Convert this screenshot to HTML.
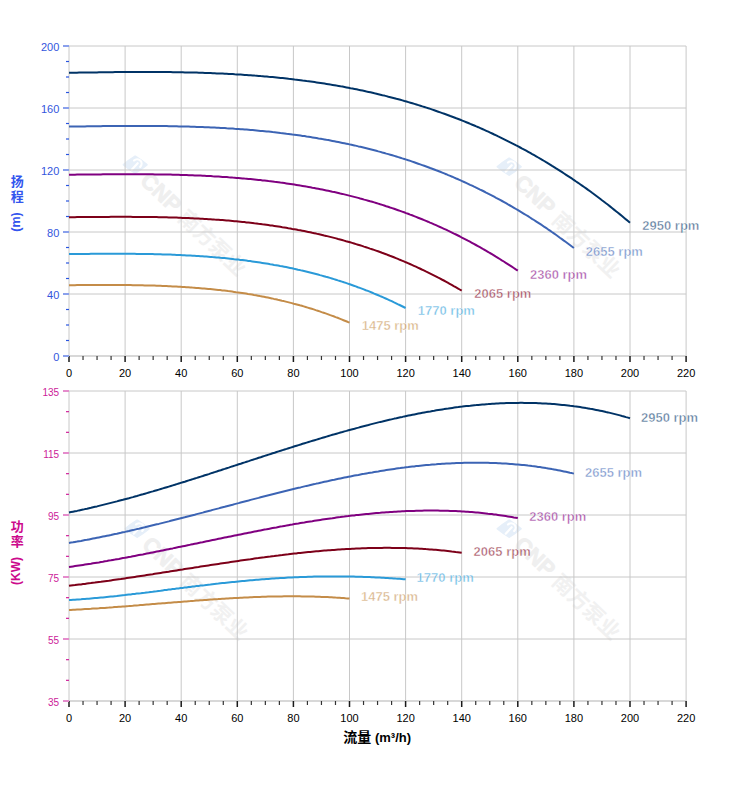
<!DOCTYPE html>
<html><head><meta charset="utf-8"><title>Pump curves</title>
<style>
html,body{margin:0;padding:0;background:#fff;}
body{width:752px;height:797px;overflow:hidden;position:relative;}
svg{position:absolute;left:0;top:0;}
text{font-family:"Liberation Sans","Noto Sans CJK SC",Arial,sans-serif;}
.vt{position:absolute;writing-mode:vertical-rl;font-family:"Liberation Sans","Noto Sans CJK SC",sans-serif;font-weight:bold;font-size:13px;line-height:14px;}
</style></head><body>
<svg width="752" height="797" viewBox="0 0 752 797">
<rect x="0" y="0" width="752" height="797" fill="#fff"/>

<g class="wm" transform="translate(135.2,164.7)"><path d="M-11.6,0 Q-6,-4.5 0,-8.3 Q6,-4.5 11.6,0 Q6,4.5 0,8.3 Q-6,4.5 -11.6,0 Z" fill="#e6eff9" stroke="#e6eff9" stroke-width="2" stroke-linejoin="round"/><path d="M-3.5,5 L2.5,-1.5 M-1.2,-4.2 A4,4 0 0 1 5,2.2" fill="none" stroke="#fff" stroke-width="2.2" stroke-linecap="round"/></g><g class="wm" transform="translate(130.0,164.0) rotate(43.5)"><text x="19" y="7" font-size="22" font-weight="bold" fill="#efefef" stroke="#efefef" stroke-width="0.8" font-family="Liberation Sans, sans-serif">CNP</text><text x="72" y="8" font-size="21" font-weight="bold" fill="#f1f1f1" font-family="Liberation Sans, Noto Sans CJK SC, sans-serif">南方泵业</text></g>
<g class="wm" transform="translate(509.2,166.7)"><path d="M-11.6,0 Q-6,-4.5 0,-8.3 Q6,-4.5 11.6,0 Q6,4.5 0,8.3 Q-6,4.5 -11.6,0 Z" fill="#e6eff9" stroke="#e6eff9" stroke-width="2" stroke-linejoin="round"/><path d="M-3.5,5 L2.5,-1.5 M-1.2,-4.2 A4,4 0 0 1 5,2.2" fill="none" stroke="#fff" stroke-width="2.2" stroke-linecap="round"/></g><g class="wm" transform="translate(504.0,166.0) rotate(43.5)"><text x="19" y="7" font-size="22" font-weight="bold" fill="#efefef" stroke="#efefef" stroke-width="0.8" font-family="Liberation Sans, sans-serif">CNP</text><text x="72" y="8" font-size="21" font-weight="bold" fill="#f1f1f1" font-family="Liberation Sans, Noto Sans CJK SC, sans-serif">南方泵业</text></g>
<g class="wm" transform="translate(137.2,528.7)"><path d="M-11.6,0 Q-6,-4.5 0,-8.3 Q6,-4.5 11.6,0 Q6,4.5 0,8.3 Q-6,4.5 -11.6,0 Z" fill="#e6eff9" stroke="#e6eff9" stroke-width="2" stroke-linejoin="round"/><path d="M-3.5,5 L2.5,-1.5 M-1.2,-4.2 A4,4 0 0 1 5,2.2" fill="none" stroke="#fff" stroke-width="2.2" stroke-linecap="round"/></g><g class="wm" transform="translate(132.0,528.0) rotate(43.5)"><text x="19" y="7" font-size="22" font-weight="bold" fill="#efefef" stroke="#efefef" stroke-width="0.8" font-family="Liberation Sans, sans-serif">CNP</text><text x="72" y="8" font-size="21" font-weight="bold" fill="#f1f1f1" font-family="Liberation Sans, Noto Sans CJK SC, sans-serif">南方泵业</text></g>
<g class="wm" transform="translate(509.2,528.7)"><path d="M-11.6,0 Q-6,-4.5 0,-8.3 Q6,-4.5 11.6,0 Q6,4.5 0,8.3 Q-6,4.5 -11.6,0 Z" fill="#e6eff9" stroke="#e6eff9" stroke-width="2" stroke-linejoin="round"/><path d="M-3.5,5 L2.5,-1.5 M-1.2,-4.2 A4,4 0 0 1 5,2.2" fill="none" stroke="#fff" stroke-width="2.2" stroke-linecap="round"/></g><g class="wm" transform="translate(504.0,528.0) rotate(43.5)"><text x="19" y="7" font-size="22" font-weight="bold" fill="#efefef" stroke="#efefef" stroke-width="0.8" font-family="Liberation Sans, sans-serif">CNP</text><text x="72" y="8" font-size="21" font-weight="bold" fill="#f1f1f1" font-family="Liberation Sans, Noto Sans CJK SC, sans-serif">南方泵业</text></g>
<line x1="69.00" y1="46.0" x2="69.00" y2="356.0" stroke="#c8c8c8"/>
<line x1="125.10" y1="46.0" x2="125.10" y2="356.0" stroke="#c8c8c8"/>
<line x1="181.20" y1="46.0" x2="181.20" y2="356.0" stroke="#c8c8c8"/>
<line x1="237.30" y1="46.0" x2="237.30" y2="356.0" stroke="#c8c8c8"/>
<line x1="293.40" y1="46.0" x2="293.40" y2="356.0" stroke="#c8c8c8"/>
<line x1="349.50" y1="46.0" x2="349.50" y2="356.0" stroke="#c8c8c8"/>
<line x1="405.60" y1="46.0" x2="405.60" y2="356.0" stroke="#c8c8c8"/>
<line x1="461.70" y1="46.0" x2="461.70" y2="356.0" stroke="#c8c8c8"/>
<line x1="517.80" y1="46.0" x2="517.80" y2="356.0" stroke="#c8c8c8"/>
<line x1="573.90" y1="46.0" x2="573.90" y2="356.0" stroke="#c8c8c8"/>
<line x1="630.00" y1="46.0" x2="630.00" y2="356.0" stroke="#c8c8c8"/>
<line x1="686.10" y1="46.0" x2="686.10" y2="356.0" stroke="#c8c8c8"/>
<line x1="69.0" y1="356.00" x2="686.1" y2="356.00" stroke="#c8c8c8"/>
<line x1="69.0" y1="294.00" x2="686.1" y2="294.00" stroke="#c8c8c8"/>
<line x1="69.0" y1="232.00" x2="686.1" y2="232.00" stroke="#c8c8c8"/>
<line x1="69.0" y1="170.00" x2="686.1" y2="170.00" stroke="#c8c8c8"/>
<line x1="69.0" y1="108.00" x2="686.1" y2="108.00" stroke="#c8c8c8"/>
<line x1="69.0" y1="46.00" x2="686.1" y2="46.00" stroke="#c8c8c8"/>
<line x1="69.00" y1="391.0" x2="69.00" y2="701.0" stroke="#c8c8c8"/>
<line x1="125.10" y1="391.0" x2="125.10" y2="701.0" stroke="#c8c8c8"/>
<line x1="181.20" y1="391.0" x2="181.20" y2="701.0" stroke="#c8c8c8"/>
<line x1="237.30" y1="391.0" x2="237.30" y2="701.0" stroke="#c8c8c8"/>
<line x1="293.40" y1="391.0" x2="293.40" y2="701.0" stroke="#c8c8c8"/>
<line x1="349.50" y1="391.0" x2="349.50" y2="701.0" stroke="#c8c8c8"/>
<line x1="405.60" y1="391.0" x2="405.60" y2="701.0" stroke="#c8c8c8"/>
<line x1="461.70" y1="391.0" x2="461.70" y2="701.0" stroke="#c8c8c8"/>
<line x1="517.80" y1="391.0" x2="517.80" y2="701.0" stroke="#c8c8c8"/>
<line x1="573.90" y1="391.0" x2="573.90" y2="701.0" stroke="#c8c8c8"/>
<line x1="630.00" y1="391.0" x2="630.00" y2="701.0" stroke="#c8c8c8"/>
<line x1="686.10" y1="391.0" x2="686.10" y2="701.0" stroke="#c8c8c8"/>
<line x1="69.0" y1="701.00" x2="686.1" y2="701.00" stroke="#c8c8c8"/>
<line x1="69.0" y1="639.00" x2="686.1" y2="639.00" stroke="#c8c8c8"/>
<line x1="69.0" y1="577.00" x2="686.1" y2="577.00" stroke="#c8c8c8"/>
<line x1="69.0" y1="515.00" x2="686.1" y2="515.00" stroke="#c8c8c8"/>
<line x1="69.0" y1="453.00" x2="686.1" y2="453.00" stroke="#c8c8c8"/>
<line x1="69.0" y1="391.00" x2="686.1" y2="391.00" stroke="#c8c8c8"/>
<line x1="69.0" y1="356.0" x2="686.1" y2="356.0" stroke="#d8d8d8" stroke-width="2"/>
<line x1="69.00" y1="356.0" x2="69.00" y2="362.0" stroke="#1a1a1a" stroke-width="1.5"/>
<text x="69.00" y="377.2" font-size="11" fill="#000" text-anchor="middle">0</text>
<line x1="83.03" y1="356.0" x2="83.03" y2="360.0" stroke="#333" stroke-width="1.2"/>
<line x1="97.05" y1="356.0" x2="97.05" y2="360.0" stroke="#333" stroke-width="1.2"/>
<line x1="111.08" y1="356.0" x2="111.08" y2="360.0" stroke="#333" stroke-width="1.2"/>
<line x1="125.10" y1="356.0" x2="125.10" y2="362.0" stroke="#1a1a1a" stroke-width="1.5"/>
<text x="125.10" y="377.2" font-size="11" fill="#000" text-anchor="middle">20</text>
<line x1="139.12" y1="356.0" x2="139.12" y2="360.0" stroke="#333" stroke-width="1.2"/>
<line x1="153.15" y1="356.0" x2="153.15" y2="360.0" stroke="#333" stroke-width="1.2"/>
<line x1="167.18" y1="356.0" x2="167.18" y2="360.0" stroke="#333" stroke-width="1.2"/>
<line x1="181.20" y1="356.0" x2="181.20" y2="362.0" stroke="#1a1a1a" stroke-width="1.5"/>
<text x="181.20" y="377.2" font-size="11" fill="#000" text-anchor="middle">40</text>
<line x1="195.23" y1="356.0" x2="195.23" y2="360.0" stroke="#333" stroke-width="1.2"/>
<line x1="209.25" y1="356.0" x2="209.25" y2="360.0" stroke="#333" stroke-width="1.2"/>
<line x1="223.28" y1="356.0" x2="223.28" y2="360.0" stroke="#333" stroke-width="1.2"/>
<line x1="237.30" y1="356.0" x2="237.30" y2="362.0" stroke="#1a1a1a" stroke-width="1.5"/>
<text x="237.30" y="377.2" font-size="11" fill="#000" text-anchor="middle">60</text>
<line x1="251.33" y1="356.0" x2="251.33" y2="360.0" stroke="#333" stroke-width="1.2"/>
<line x1="265.35" y1="356.0" x2="265.35" y2="360.0" stroke="#333" stroke-width="1.2"/>
<line x1="279.38" y1="356.0" x2="279.38" y2="360.0" stroke="#333" stroke-width="1.2"/>
<line x1="293.40" y1="356.0" x2="293.40" y2="362.0" stroke="#1a1a1a" stroke-width="1.5"/>
<text x="293.40" y="377.2" font-size="11" fill="#000" text-anchor="middle">80</text>
<line x1="307.43" y1="356.0" x2="307.43" y2="360.0" stroke="#333" stroke-width="1.2"/>
<line x1="321.45" y1="356.0" x2="321.45" y2="360.0" stroke="#333" stroke-width="1.2"/>
<line x1="335.48" y1="356.0" x2="335.48" y2="360.0" stroke="#333" stroke-width="1.2"/>
<line x1="349.50" y1="356.0" x2="349.50" y2="362.0" stroke="#1a1a1a" stroke-width="1.5"/>
<text x="349.50" y="377.2" font-size="11" fill="#000" text-anchor="middle">100</text>
<line x1="363.53" y1="356.0" x2="363.53" y2="360.0" stroke="#333" stroke-width="1.2"/>
<line x1="377.55" y1="356.0" x2="377.55" y2="360.0" stroke="#333" stroke-width="1.2"/>
<line x1="391.58" y1="356.0" x2="391.58" y2="360.0" stroke="#333" stroke-width="1.2"/>
<line x1="405.60" y1="356.0" x2="405.60" y2="362.0" stroke="#1a1a1a" stroke-width="1.5"/>
<text x="405.60" y="377.2" font-size="11" fill="#000" text-anchor="middle">120</text>
<line x1="419.62" y1="356.0" x2="419.62" y2="360.0" stroke="#333" stroke-width="1.2"/>
<line x1="433.65" y1="356.0" x2="433.65" y2="360.0" stroke="#333" stroke-width="1.2"/>
<line x1="447.68" y1="356.0" x2="447.68" y2="360.0" stroke="#333" stroke-width="1.2"/>
<line x1="461.70" y1="356.0" x2="461.70" y2="362.0" stroke="#1a1a1a" stroke-width="1.5"/>
<text x="461.70" y="377.2" font-size="11" fill="#000" text-anchor="middle">140</text>
<line x1="475.73" y1="356.0" x2="475.73" y2="360.0" stroke="#333" stroke-width="1.2"/>
<line x1="489.75" y1="356.0" x2="489.75" y2="360.0" stroke="#333" stroke-width="1.2"/>
<line x1="503.78" y1="356.0" x2="503.78" y2="360.0" stroke="#333" stroke-width="1.2"/>
<line x1="517.80" y1="356.0" x2="517.80" y2="362.0" stroke="#1a1a1a" stroke-width="1.5"/>
<text x="517.80" y="377.2" font-size="11" fill="#000" text-anchor="middle">160</text>
<line x1="531.83" y1="356.0" x2="531.83" y2="360.0" stroke="#333" stroke-width="1.2"/>
<line x1="545.85" y1="356.0" x2="545.85" y2="360.0" stroke="#333" stroke-width="1.2"/>
<line x1="559.88" y1="356.0" x2="559.88" y2="360.0" stroke="#333" stroke-width="1.2"/>
<line x1="573.90" y1="356.0" x2="573.90" y2="362.0" stroke="#1a1a1a" stroke-width="1.5"/>
<text x="573.90" y="377.2" font-size="11" fill="#000" text-anchor="middle">180</text>
<line x1="587.93" y1="356.0" x2="587.93" y2="360.0" stroke="#333" stroke-width="1.2"/>
<line x1="601.95" y1="356.0" x2="601.95" y2="360.0" stroke="#333" stroke-width="1.2"/>
<line x1="615.98" y1="356.0" x2="615.98" y2="360.0" stroke="#333" stroke-width="1.2"/>
<line x1="630.00" y1="356.0" x2="630.00" y2="362.0" stroke="#1a1a1a" stroke-width="1.5"/>
<text x="630.00" y="377.2" font-size="11" fill="#000" text-anchor="middle">200</text>
<line x1="644.02" y1="356.0" x2="644.02" y2="360.0" stroke="#333" stroke-width="1.2"/>
<line x1="658.05" y1="356.0" x2="658.05" y2="360.0" stroke="#333" stroke-width="1.2"/>
<line x1="672.08" y1="356.0" x2="672.08" y2="360.0" stroke="#333" stroke-width="1.2"/>
<line x1="686.10" y1="356.0" x2="686.10" y2="362.0" stroke="#1a1a1a" stroke-width="1.5"/>
<text x="686.10" y="377.2" font-size="11" fill="#000" text-anchor="middle">220</text>
<line x1="69.0" y1="701.0" x2="686.1" y2="701.0" stroke="#d8d8d8" stroke-width="2"/>
<line x1="69.00" y1="701.0" x2="69.00" y2="707.0" stroke="#1a1a1a" stroke-width="1.5"/>
<text x="69.00" y="722.2" font-size="11" fill="#000" text-anchor="middle">0</text>
<line x1="83.03" y1="701.0" x2="83.03" y2="705.0" stroke="#333" stroke-width="1.2"/>
<line x1="97.05" y1="701.0" x2="97.05" y2="705.0" stroke="#333" stroke-width="1.2"/>
<line x1="111.08" y1="701.0" x2="111.08" y2="705.0" stroke="#333" stroke-width="1.2"/>
<line x1="125.10" y1="701.0" x2="125.10" y2="707.0" stroke="#1a1a1a" stroke-width="1.5"/>
<text x="125.10" y="722.2" font-size="11" fill="#000" text-anchor="middle">20</text>
<line x1="139.12" y1="701.0" x2="139.12" y2="705.0" stroke="#333" stroke-width="1.2"/>
<line x1="153.15" y1="701.0" x2="153.15" y2="705.0" stroke="#333" stroke-width="1.2"/>
<line x1="167.18" y1="701.0" x2="167.18" y2="705.0" stroke="#333" stroke-width="1.2"/>
<line x1="181.20" y1="701.0" x2="181.20" y2="707.0" stroke="#1a1a1a" stroke-width="1.5"/>
<text x="181.20" y="722.2" font-size="11" fill="#000" text-anchor="middle">40</text>
<line x1="195.23" y1="701.0" x2="195.23" y2="705.0" stroke="#333" stroke-width="1.2"/>
<line x1="209.25" y1="701.0" x2="209.25" y2="705.0" stroke="#333" stroke-width="1.2"/>
<line x1="223.28" y1="701.0" x2="223.28" y2="705.0" stroke="#333" stroke-width="1.2"/>
<line x1="237.30" y1="701.0" x2="237.30" y2="707.0" stroke="#1a1a1a" stroke-width="1.5"/>
<text x="237.30" y="722.2" font-size="11" fill="#000" text-anchor="middle">60</text>
<line x1="251.33" y1="701.0" x2="251.33" y2="705.0" stroke="#333" stroke-width="1.2"/>
<line x1="265.35" y1="701.0" x2="265.35" y2="705.0" stroke="#333" stroke-width="1.2"/>
<line x1="279.38" y1="701.0" x2="279.38" y2="705.0" stroke="#333" stroke-width="1.2"/>
<line x1="293.40" y1="701.0" x2="293.40" y2="707.0" stroke="#1a1a1a" stroke-width="1.5"/>
<text x="293.40" y="722.2" font-size="11" fill="#000" text-anchor="middle">80</text>
<line x1="307.43" y1="701.0" x2="307.43" y2="705.0" stroke="#333" stroke-width="1.2"/>
<line x1="321.45" y1="701.0" x2="321.45" y2="705.0" stroke="#333" stroke-width="1.2"/>
<line x1="335.48" y1="701.0" x2="335.48" y2="705.0" stroke="#333" stroke-width="1.2"/>
<line x1="349.50" y1="701.0" x2="349.50" y2="707.0" stroke="#1a1a1a" stroke-width="1.5"/>
<text x="349.50" y="722.2" font-size="11" fill="#000" text-anchor="middle">100</text>
<line x1="363.53" y1="701.0" x2="363.53" y2="705.0" stroke="#333" stroke-width="1.2"/>
<line x1="377.55" y1="701.0" x2="377.55" y2="705.0" stroke="#333" stroke-width="1.2"/>
<line x1="391.58" y1="701.0" x2="391.58" y2="705.0" stroke="#333" stroke-width="1.2"/>
<line x1="405.60" y1="701.0" x2="405.60" y2="707.0" stroke="#1a1a1a" stroke-width="1.5"/>
<text x="405.60" y="722.2" font-size="11" fill="#000" text-anchor="middle">120</text>
<line x1="419.62" y1="701.0" x2="419.62" y2="705.0" stroke="#333" stroke-width="1.2"/>
<line x1="433.65" y1="701.0" x2="433.65" y2="705.0" stroke="#333" stroke-width="1.2"/>
<line x1="447.68" y1="701.0" x2="447.68" y2="705.0" stroke="#333" stroke-width="1.2"/>
<line x1="461.70" y1="701.0" x2="461.70" y2="707.0" stroke="#1a1a1a" stroke-width="1.5"/>
<text x="461.70" y="722.2" font-size="11" fill="#000" text-anchor="middle">140</text>
<line x1="475.73" y1="701.0" x2="475.73" y2="705.0" stroke="#333" stroke-width="1.2"/>
<line x1="489.75" y1="701.0" x2="489.75" y2="705.0" stroke="#333" stroke-width="1.2"/>
<line x1="503.78" y1="701.0" x2="503.78" y2="705.0" stroke="#333" stroke-width="1.2"/>
<line x1="517.80" y1="701.0" x2="517.80" y2="707.0" stroke="#1a1a1a" stroke-width="1.5"/>
<text x="517.80" y="722.2" font-size="11" fill="#000" text-anchor="middle">160</text>
<line x1="531.83" y1="701.0" x2="531.83" y2="705.0" stroke="#333" stroke-width="1.2"/>
<line x1="545.85" y1="701.0" x2="545.85" y2="705.0" stroke="#333" stroke-width="1.2"/>
<line x1="559.88" y1="701.0" x2="559.88" y2="705.0" stroke="#333" stroke-width="1.2"/>
<line x1="573.90" y1="701.0" x2="573.90" y2="707.0" stroke="#1a1a1a" stroke-width="1.5"/>
<text x="573.90" y="722.2" font-size="11" fill="#000" text-anchor="middle">180</text>
<line x1="587.93" y1="701.0" x2="587.93" y2="705.0" stroke="#333" stroke-width="1.2"/>
<line x1="601.95" y1="701.0" x2="601.95" y2="705.0" stroke="#333" stroke-width="1.2"/>
<line x1="615.98" y1="701.0" x2="615.98" y2="705.0" stroke="#333" stroke-width="1.2"/>
<line x1="630.00" y1="701.0" x2="630.00" y2="707.0" stroke="#1a1a1a" stroke-width="1.5"/>
<text x="630.00" y="722.2" font-size="11" fill="#000" text-anchor="middle">200</text>
<line x1="644.02" y1="701.0" x2="644.02" y2="705.0" stroke="#333" stroke-width="1.2"/>
<line x1="658.05" y1="701.0" x2="658.05" y2="705.0" stroke="#333" stroke-width="1.2"/>
<line x1="672.08" y1="701.0" x2="672.08" y2="705.0" stroke="#333" stroke-width="1.2"/>
<line x1="686.10" y1="701.0" x2="686.10" y2="707.0" stroke="#1a1a1a" stroke-width="1.5"/>
<text x="686.10" y="722.2" font-size="11" fill="#000" text-anchor="middle">220</text>
<line x1="63" y1="356.00" x2="69" y2="356.00" stroke="#8aa0ec" stroke-width="2"/>
<text x="59.3" y="360.8" font-size="11" fill="#3355dd" text-anchor="end">0</text>
<line x1="66" y1="340.50" x2="69" y2="340.50" stroke="#2a55e0" stroke-width="1.2"/>
<line x1="66" y1="325.00" x2="69" y2="325.00" stroke="#2a55e0" stroke-width="1.2"/>
<line x1="66" y1="309.50" x2="69" y2="309.50" stroke="#2a55e0" stroke-width="1.2"/>
<line x1="63" y1="294.00" x2="69" y2="294.00" stroke="#8aa0ec" stroke-width="2"/>
<text x="59.3" y="298.8" font-size="11" fill="#3355dd" text-anchor="end">40</text>
<line x1="66" y1="278.50" x2="69" y2="278.50" stroke="#2a55e0" stroke-width="1.2"/>
<line x1="66" y1="263.00" x2="69" y2="263.00" stroke="#2a55e0" stroke-width="1.2"/>
<line x1="66" y1="247.50" x2="69" y2="247.50" stroke="#2a55e0" stroke-width="1.2"/>
<line x1="63" y1="232.00" x2="69" y2="232.00" stroke="#8aa0ec" stroke-width="2"/>
<text x="59.3" y="236.8" font-size="11" fill="#3355dd" text-anchor="end">80</text>
<line x1="66" y1="216.50" x2="69" y2="216.50" stroke="#2a55e0" stroke-width="1.2"/>
<line x1="66" y1="201.00" x2="69" y2="201.00" stroke="#2a55e0" stroke-width="1.2"/>
<line x1="66" y1="185.50" x2="69" y2="185.50" stroke="#2a55e0" stroke-width="1.2"/>
<line x1="63" y1="170.00" x2="69" y2="170.00" stroke="#8aa0ec" stroke-width="2"/>
<text x="59.3" y="174.8" font-size="11" fill="#3355dd" text-anchor="end">120</text>
<line x1="66" y1="154.50" x2="69" y2="154.50" stroke="#2a55e0" stroke-width="1.2"/>
<line x1="66" y1="139.00" x2="69" y2="139.00" stroke="#2a55e0" stroke-width="1.2"/>
<line x1="66" y1="123.50" x2="69" y2="123.50" stroke="#2a55e0" stroke-width="1.2"/>
<line x1="63" y1="108.00" x2="69" y2="108.00" stroke="#8aa0ec" stroke-width="2"/>
<text x="59.3" y="112.8" font-size="11" fill="#3355dd" text-anchor="end">160</text>
<line x1="66" y1="92.50" x2="69" y2="92.50" stroke="#2a55e0" stroke-width="1.2"/>
<line x1="66" y1="77.00" x2="69" y2="77.00" stroke="#2a55e0" stroke-width="1.2"/>
<line x1="66" y1="61.50" x2="69" y2="61.50" stroke="#2a55e0" stroke-width="1.2"/>
<line x1="63" y1="46.00" x2="69" y2="46.00" stroke="#8aa0ec" stroke-width="2"/>
<text x="59.3" y="50.8" font-size="11" fill="#3355dd" text-anchor="end">200</text>
<line x1="63" y1="701.00" x2="69" y2="701.00" stroke="#e58ccc" stroke-width="2"/>
<text x="59.2" y="705.8" font-size="10" fill="#cc1a99" text-anchor="end">35</text>
<line x1="66" y1="680.33" x2="69" y2="680.33" stroke="#d0209a" stroke-width="1.2"/>
<line x1="66" y1="659.67" x2="69" y2="659.67" stroke="#d0209a" stroke-width="1.2"/>
<line x1="63" y1="639.00" x2="69" y2="639.00" stroke="#e58ccc" stroke-width="2"/>
<text x="59.2" y="643.8" font-size="10" fill="#cc1a99" text-anchor="end">55</text>
<line x1="66" y1="618.33" x2="69" y2="618.33" stroke="#d0209a" stroke-width="1.2"/>
<line x1="66" y1="597.67" x2="69" y2="597.67" stroke="#d0209a" stroke-width="1.2"/>
<line x1="63" y1="577.00" x2="69" y2="577.00" stroke="#e58ccc" stroke-width="2"/>
<text x="59.2" y="581.8" font-size="10" fill="#cc1a99" text-anchor="end">75</text>
<line x1="66" y1="556.33" x2="69" y2="556.33" stroke="#d0209a" stroke-width="1.2"/>
<line x1="66" y1="535.67" x2="69" y2="535.67" stroke="#d0209a" stroke-width="1.2"/>
<line x1="63" y1="515.00" x2="69" y2="515.00" stroke="#e58ccc" stroke-width="2"/>
<text x="59.2" y="519.8" font-size="10" fill="#cc1a99" text-anchor="end">95</text>
<line x1="66" y1="494.33" x2="69" y2="494.33" stroke="#d0209a" stroke-width="1.2"/>
<line x1="66" y1="473.67" x2="69" y2="473.67" stroke="#d0209a" stroke-width="1.2"/>
<line x1="63" y1="453.00" x2="69" y2="453.00" stroke="#e58ccc" stroke-width="2"/>
<text x="59.2" y="457.8" font-size="10" fill="#cc1a99" text-anchor="end">115</text>
<line x1="66" y1="432.33" x2="69" y2="432.33" stroke="#d0209a" stroke-width="1.2"/>
<line x1="66" y1="411.67" x2="69" y2="411.67" stroke="#d0209a" stroke-width="1.2"/>
<line x1="63" y1="391.00" x2="69" y2="391.00" stroke="#e58ccc" stroke-width="2"/>
<text x="59.2" y="395.8" font-size="10" fill="#cc1a99" text-anchor="end">135</text>
<path d="M69.0,72.8 L71.0,72.8 L73.0,72.7 L75.0,72.7 L77.0,72.7 L79.0,72.6 L81.0,72.6 L83.0,72.6 L85.0,72.5 L87.0,72.5 L89.0,72.5 L91.0,72.4 L93.0,72.4 L95.0,72.4 L97.0,72.4 L98.9,72.3 L100.9,72.3 L102.9,72.3 L104.9,72.2 L106.9,72.2 L108.9,72.2 L110.9,72.2 L112.9,72.2 L114.9,72.1 L116.9,72.1 L118.9,72.1 L120.9,72.1 L122.9,72.1 L124.9,72.0 L126.9,72.0 L128.9,72.0 L130.9,72.0 L132.9,72.0 L134.9,72.0 L136.9,72.0 L138.9,72.0 L140.9,72.0 L142.9,72.0 L144.9,72.0 L146.9,72.0 L148.9,72.0 L150.9,72.0 L152.9,72.0 L154.8,72.0 L156.8,72.0 L158.8,72.0 L160.8,72.0 L162.8,72.0 L164.8,72.1 L166.8,72.1 L168.8,72.1 L170.8,72.1 L172.8,72.2 L174.8,72.2 L176.8,72.2 L178.8,72.2 L180.8,72.3 L182.8,72.3 L184.8,72.4 L186.8,72.4 L188.8,72.4 L190.8,72.5 L192.8,72.5 L194.8,72.6 L196.8,72.6 L198.8,72.7 L200.8,72.8 L202.8,72.8 L204.8,72.9 L206.8,73.0 L208.8,73.0 L210.7,73.1 L212.7,73.2 L214.7,73.3 L216.7,73.4 L218.7,73.4 L220.7,73.5 L222.7,73.6 L224.7,73.7 L226.7,73.8 L228.7,73.9 L230.7,74.0 L232.7,74.1 L234.7,74.3 L236.7,74.4 L238.7,74.5 L240.7,74.6 L242.7,74.7 L244.7,74.9 L246.7,75.0 L248.7,75.2 L250.7,75.3 L252.7,75.4 L254.7,75.6 L256.7,75.7 L258.7,75.9 L260.7,76.1 L262.7,76.2 L264.7,76.4 L266.6,76.6 L268.6,76.8 L270.6,76.9 L272.6,77.1 L274.6,77.3 L276.6,77.5 L278.6,77.7 L280.6,77.9 L282.6,78.1 L284.6,78.3 L286.6,78.5 L288.6,78.8 L290.6,79.0 L292.6,79.2 L294.6,79.5 L296.6,79.7 L298.6,79.9 L300.6,80.2 L302.6,80.5 L304.6,80.7 L306.6,81.0 L308.6,81.2 L310.6,81.5 L312.6,81.8 L314.6,82.1 L316.6,82.4 L318.6,82.7 L320.6,83.0 L322.5,83.3 L324.5,83.6 L326.5,83.9 L328.5,84.2 L330.5,84.6 L332.5,84.9 L334.5,85.2 L336.5,85.6 L338.5,85.9 L340.5,86.3 L342.5,86.6 L344.5,87.0 L346.5,87.4 L348.5,87.8 L350.5,88.2 L352.5,88.5 L354.5,88.9 L356.5,89.3 L358.5,89.8 L360.5,90.2 L362.5,90.6 L364.5,91.0 L366.5,91.5 L368.5,91.9 L370.5,92.3 L372.5,92.8 L374.5,93.3 L376.5,93.7 L378.4,94.2 L380.4,94.7 L382.4,95.2 L384.4,95.6 L386.4,96.1 L388.4,96.7 L390.4,97.2 L392.4,97.7 L394.4,98.2 L396.4,98.8 L398.4,99.3 L400.4,99.8 L402.4,100.4 L404.4,101.0 L406.4,101.5 L408.4,102.1 L410.4,102.7 L412.4,103.3 L414.4,103.9 L416.4,104.5 L418.4,105.1 L420.4,105.7 L422.4,106.4 L424.4,107.0 L426.4,107.6 L428.4,108.3 L430.4,108.9 L432.4,109.6 L434.3,110.3 L436.3,111.0 L438.3,111.7 L440.3,112.4 L442.3,113.1 L444.3,113.8 L446.3,114.5 L448.3,115.2 L450.3,116.0 L452.3,116.7 L454.3,117.5 L456.3,118.3 L458.3,119.0 L460.3,119.8 L462.3,120.6 L464.3,121.4 L466.3,122.2 L468.3,123.0 L470.3,123.9 L472.3,124.7 L474.3,125.5 L476.3,126.4 L478.3,127.2 L480.3,128.1 L482.3,129.0 L484.3,129.9 L486.3,130.8 L488.3,131.7 L490.2,132.6 L492.2,133.5 L494.2,134.5 L496.2,135.4 L498.2,136.4 L500.2,137.3 L502.2,138.3 L504.2,139.3 L506.2,140.3 L508.2,141.3 L510.2,142.3 L512.2,143.3 L514.2,144.3 L516.2,145.4 L518.2,146.4 L520.2,147.5 L522.2,148.6 L524.2,149.6 L526.2,150.7 L528.2,151.8 L530.2,152.9 L532.2,154.1 L534.2,155.2 L536.2,156.3 L538.2,157.5 L540.2,158.7 L542.2,159.8 L544.2,161.0 L546.1,162.2 L548.1,163.4 L550.1,164.6 L552.1,165.9 L554.1,167.1 L556.1,168.4 L558.1,169.6 L560.1,170.9 L562.1,172.2 L564.1,173.5 L566.1,174.8 L568.1,176.1 L570.1,177.4 L572.1,178.7 L574.1,180.1 L576.1,181.5 L578.1,182.8 L580.1,184.2 L582.1,185.6 L584.1,187.0 L586.1,188.4 L588.1,189.9 L590.1,191.3 L592.1,192.8 L594.1,194.2 L596.1,195.7 L598.1,197.2 L600.1,198.7 L602.0,200.2 L604.0,201.7 L606.0,203.3 L608.0,204.8 L610.0,206.4 L612.0,208.0 L614.0,209.6 L616.0,211.2 L618.0,212.8 L620.0,214.4 L622.0,216.0 L624.0,217.7 L626.0,219.4 L628.0,221.0 L630.0,222.7" fill="none" stroke="#003366" stroke-width="2" stroke-linejoin="round" stroke-linecap="butt"/>
<path d="M69.0,126.6 L71.0,126.6 L73.0,126.6 L75.0,126.5 L77.0,126.5 L79.0,126.5 L81.0,126.4 L83.0,126.4 L85.0,126.4 L87.0,126.3 L89.0,126.3 L91.0,126.3 L92.9,126.3 L94.9,126.2 L96.9,126.2 L98.9,126.2 L100.9,126.2 L102.9,126.1 L104.9,126.1 L106.9,126.1 L108.9,126.1 L110.9,126.1 L112.9,126.0 L114.9,126.0 L116.9,126.0 L118.9,126.0 L120.9,126.0 L122.9,126.0 L124.9,126.0 L126.9,126.0 L128.9,125.9 L130.9,125.9 L132.9,125.9 L134.9,125.9 L136.9,125.9 L138.8,125.9 L140.8,125.9 L142.8,125.9 L144.8,125.9 L146.8,126.0 L148.8,126.0 L150.8,126.0 L152.8,126.0 L154.8,126.0 L156.8,126.0 L158.8,126.0 L160.8,126.1 L162.8,126.1 L164.8,126.1 L166.8,126.1 L168.8,126.2 L170.8,126.2 L172.8,126.2 L174.8,126.3 L176.8,126.3 L178.8,126.4 L180.8,126.4 L182.8,126.5 L184.7,126.5 L186.7,126.6 L188.7,126.6 L190.7,126.7 L192.7,126.7 L194.7,126.8 L196.7,126.9 L198.7,126.9 L200.7,127.0 L202.7,127.1 L204.7,127.2 L206.7,127.3 L208.7,127.3 L210.7,127.4 L212.7,127.5 L214.7,127.6 L216.7,127.7 L218.7,127.8 L220.7,127.9 L222.7,128.0 L224.7,128.1 L226.7,128.3 L228.7,128.4 L230.6,128.5 L232.6,128.6 L234.6,128.8 L236.6,128.9 L238.6,129.0 L240.6,129.2 L242.6,129.3 L244.6,129.5 L246.6,129.6 L248.6,129.8 L250.6,130.0 L252.6,130.1 L254.6,130.3 L256.6,130.5 L258.6,130.7 L260.6,130.9 L262.6,131.0 L264.6,131.2 L266.6,131.4 L268.6,131.6 L270.6,131.8 L272.6,132.1 L274.6,132.3 L276.5,132.5 L278.5,132.7 L280.5,133.0 L282.5,133.2 L284.5,133.4 L286.5,133.7 L288.5,133.9 L290.5,134.2 L292.5,134.5 L294.5,134.7 L296.5,135.0 L298.5,135.3 L300.5,135.6 L302.5,135.9 L304.5,136.1 L306.5,136.5 L308.5,136.8 L310.5,137.1 L312.5,137.4 L314.5,137.7 L316.5,138.0 L318.5,138.4 L320.5,138.7 L322.4,139.1 L324.4,139.4 L326.4,139.8 L328.4,140.1 L330.4,140.5 L332.4,140.9 L334.4,141.3 L336.4,141.7 L338.4,142.1 L340.4,142.5 L342.4,142.9 L344.4,143.3 L346.4,143.7 L348.4,144.1 L350.4,144.6 L352.4,145.0 L354.4,145.4 L356.4,145.9 L358.4,146.4 L360.4,146.8 L362.4,147.3 L364.4,147.8 L366.4,148.3 L368.3,148.8 L370.3,149.3 L372.3,149.8 L374.3,150.3 L376.3,150.8 L378.3,151.4 L380.3,151.9 L382.3,152.5 L384.3,153.0 L386.3,153.6 L388.3,154.1 L390.3,154.7 L392.3,155.3 L394.3,155.9 L396.3,156.5 L398.3,157.1 L400.3,157.7 L402.3,158.4 L404.3,159.0 L406.3,159.6 L408.3,160.3 L410.3,160.9 L412.3,161.6 L414.2,162.3 L416.2,163.0 L418.2,163.7 L420.2,164.4 L422.2,165.1 L424.2,165.8 L426.2,166.5 L428.2,167.2 L430.2,168.0 L432.2,168.7 L434.2,169.5 L436.2,170.3 L438.2,171.0 L440.2,171.8 L442.2,172.6 L444.2,173.4 L446.2,174.2 L448.2,175.1 L450.2,175.9 L452.2,176.7 L454.2,177.6 L456.2,178.5 L458.2,179.3 L460.1,180.2 L462.1,181.1 L464.1,182.0 L466.1,182.9 L468.1,183.8 L470.1,184.8 L472.1,185.7 L474.1,186.7 L476.1,187.6 L478.1,188.6 L480.1,189.6 L482.1,190.5 L484.1,191.5 L486.1,192.6 L488.1,193.6 L490.1,194.6 L492.1,195.6 L494.1,196.7 L496.1,197.8 L498.1,198.8 L500.1,199.9 L502.1,201.0 L504.1,202.1 L506.0,203.2 L508.0,204.4 L510.0,205.5 L512.0,206.6 L514.0,207.8 L516.0,209.0 L518.0,210.2 L520.0,211.4 L522.0,212.6 L524.0,213.8 L526.0,215.0 L528.0,216.2 L530.0,217.5 L532.0,218.8 L534.0,220.0 L536.0,221.3 L538.0,222.6 L540.0,223.9 L542.0,225.2 L544.0,226.6 L546.0,227.9 L548.0,229.3 L550.0,230.6 L551.9,232.0 L553.9,233.4 L555.9,234.8 L557.9,236.2 L559.9,237.7 L561.9,239.1 L563.9,240.6 L565.9,242.0 L567.9,243.5 L569.9,245.0 L571.9,246.5 L573.9,248.0" fill="none" stroke="#3c64b4" stroke-width="2" stroke-linejoin="round" stroke-linecap="butt"/>
<path d="M69.0,174.8 L71.0,174.7 L73.0,174.7 L75.0,174.7 L77.0,174.6 L79.0,174.6 L81.0,174.6 L83.0,174.6 L85.0,174.5 L87.0,174.5 L88.9,174.5 L90.9,174.5 L92.9,174.4 L94.9,174.4 L96.9,174.4 L98.9,174.4 L100.9,174.4 L102.9,174.3 L104.9,174.3 L106.9,174.3 L108.9,174.3 L110.9,174.3 L112.9,174.3 L114.9,174.3 L116.9,174.3 L118.9,174.2 L120.9,174.2 L122.9,174.2 L124.9,174.2 L126.8,174.2 L128.8,174.2 L130.8,174.2 L132.8,174.2 L134.8,174.2 L136.8,174.2 L138.8,174.2 L140.8,174.2 L142.8,174.3 L144.8,174.3 L146.8,174.3 L148.8,174.3 L150.8,174.3 L152.8,174.3 L154.8,174.4 L156.8,174.4 L158.8,174.4 L160.8,174.5 L162.7,174.5 L164.7,174.5 L166.7,174.6 L168.7,174.6 L170.7,174.6 L172.7,174.7 L174.7,174.7 L176.7,174.8 L178.7,174.8 L180.7,174.9 L182.7,175.0 L184.7,175.0 L186.7,175.1 L188.7,175.2 L190.7,175.2 L192.7,175.3 L194.7,175.4 L196.7,175.5 L198.7,175.6 L200.6,175.6 L202.6,175.7 L204.6,175.8 L206.6,175.9 L208.6,176.0 L210.6,176.1 L212.6,176.3 L214.6,176.4 L216.6,176.5 L218.6,176.6 L220.6,176.7 L222.6,176.9 L224.6,177.0 L226.6,177.1 L228.6,177.3 L230.6,177.4 L232.6,177.6 L234.6,177.7 L236.6,177.9 L238.5,178.0 L240.5,178.2 L242.5,178.4 L244.5,178.6 L246.5,178.7 L248.5,178.9 L250.5,179.1 L252.5,179.3 L254.5,179.5 L256.5,179.7 L258.5,179.9 L260.5,180.1 L262.5,180.4 L264.5,180.6 L266.5,180.8 L268.5,181.1 L270.5,181.3 L272.5,181.5 L274.5,181.8 L276.4,182.0 L278.4,182.3 L280.4,182.6 L282.4,182.8 L284.4,183.1 L286.4,183.4 L288.4,183.7 L290.4,184.0 L292.4,184.3 L294.4,184.6 L296.4,184.9 L298.4,185.2 L300.4,185.6 L302.4,185.9 L304.4,186.2 L306.4,186.6 L308.4,186.9 L310.4,187.3 L312.3,187.7 L314.3,188.0 L316.3,188.4 L318.3,188.8 L320.3,189.2 L322.3,189.6 L324.3,190.0 L326.3,190.4 L328.3,190.8 L330.3,191.2 L332.3,191.7 L334.3,192.1 L336.3,192.5 L338.3,193.0 L340.3,193.5 L342.3,193.9 L344.3,194.4 L346.3,194.9 L348.3,195.4 L350.2,195.9 L352.2,196.4 L354.2,196.9 L356.2,197.4 L358.2,197.9 L360.2,198.5 L362.2,199.0 L364.2,199.6 L366.2,200.1 L368.2,200.7 L370.2,201.3 L372.2,201.8 L374.2,202.4 L376.2,203.0 L378.2,203.6 L380.2,204.3 L382.2,204.9 L384.2,205.5 L386.2,206.2 L388.1,206.8 L390.1,207.5 L392.1,208.1 L394.1,208.8 L396.1,209.5 L398.1,210.2 L400.1,210.9 L402.1,211.6 L404.1,212.3 L406.1,213.1 L408.1,213.8 L410.1,214.6 L412.1,215.3 L414.1,216.1 L416.1,216.9 L418.1,217.7 L420.1,218.5 L422.1,219.3 L424.1,220.1 L426.0,220.9 L428.0,221.7 L430.0,222.6 L432.0,223.4 L434.0,224.3 L436.0,225.2 L438.0,226.1 L440.0,227.0 L442.0,227.9 L444.0,228.8 L446.0,229.7 L448.0,230.7 L450.0,231.6 L452.0,232.6 L454.0,233.6 L456.0,234.5 L458.0,235.5 L460.0,236.5 L461.9,237.6 L463.9,238.6 L465.9,239.6 L467.9,240.7 L469.9,241.7 L471.9,242.8 L473.9,243.9 L475.9,245.0 L477.9,246.1 L479.9,247.2 L481.9,248.3 L483.9,249.5 L485.9,250.6 L487.9,251.8 L489.9,253.0 L491.9,254.1 L493.9,255.3 L495.9,256.6 L497.9,257.8 L499.8,259.0 L501.8,260.3 L503.8,261.5 L505.8,262.8 L507.8,264.1 L509.8,265.4 L511.8,266.7 L513.8,268.0 L515.8,269.4 L517.8,270.7" fill="none" stroke="#800080" stroke-width="2" stroke-linejoin="round" stroke-linecap="butt"/>
<path d="M69.0,217.2 L71.0,217.2 L73.0,217.2 L75.0,217.2 L77.0,217.1 L79.0,217.1 L81.0,217.1 L83.0,217.1 L84.9,217.1 L86.9,217.0 L88.9,217.0 L90.9,217.0 L92.9,217.0 L94.9,217.0 L96.9,216.9 L98.9,216.9 L100.9,216.9 L102.9,216.9 L104.9,216.9 L106.9,216.9 L108.9,216.9 L110.9,216.8 L112.9,216.8 L114.8,216.8 L116.8,216.8 L118.8,216.8 L120.8,216.8 L122.8,216.8 L124.8,216.8 L126.8,216.8 L128.8,216.8 L130.8,216.8 L132.8,216.9 L134.8,216.9 L136.8,216.9 L138.8,216.9 L140.8,216.9 L142.8,216.9 L144.7,216.9 L146.7,217.0 L148.7,217.0 L150.7,217.0 L152.7,217.1 L154.7,217.1 L156.7,217.1 L158.7,217.2 L160.7,217.2 L162.7,217.2 L164.7,217.3 L166.7,217.3 L168.7,217.4 L170.7,217.5 L172.7,217.5 L174.7,217.6 L176.6,217.6 L178.6,217.7 L180.6,217.8 L182.6,217.9 L184.6,217.9 L186.6,218.0 L188.6,218.1 L190.6,218.2 L192.6,218.3 L194.6,218.4 L196.6,218.5 L198.6,218.6 L200.6,218.7 L202.6,218.8 L204.6,218.9 L206.5,219.0 L208.5,219.2 L210.5,219.3 L212.5,219.4 L214.5,219.6 L216.5,219.7 L218.5,219.8 L220.5,220.0 L222.5,220.1 L224.5,220.3 L226.5,220.5 L228.5,220.6 L230.5,220.8 L232.5,221.0 L234.5,221.2 L236.4,221.3 L238.4,221.5 L240.4,221.7 L242.4,221.9 L244.4,222.1 L246.4,222.4 L248.4,222.6 L250.4,222.8 L252.4,223.0 L254.4,223.3 L256.4,223.5 L258.4,223.8 L260.4,224.0 L262.4,224.3 L264.4,224.5 L266.3,224.8 L268.3,225.1 L270.3,225.4 L272.3,225.6 L274.3,225.9 L276.3,226.2 L278.3,226.5 L280.3,226.8 L282.3,227.2 L284.3,227.5 L286.3,227.8 L288.3,228.2 L290.3,228.5 L292.3,228.9 L294.3,229.2 L296.2,229.6 L298.2,230.0 L300.2,230.3 L302.2,230.7 L304.2,231.1 L306.2,231.5 L308.2,231.9 L310.2,232.3 L312.2,232.8 L314.2,233.2 L316.2,233.6 L318.2,234.1 L320.2,234.5 L322.2,235.0 L324.2,235.5 L326.1,235.9 L328.1,236.4 L330.1,236.9 L332.1,237.4 L334.1,237.9 L336.1,238.4 L338.1,239.0 L340.1,239.5 L342.1,240.0 L344.1,240.6 L346.1,241.2 L348.1,241.7 L350.1,242.3 L352.1,242.9 L354.1,243.5 L356.0,244.1 L358.0,244.7 L360.0,245.3 L362.0,245.9 L364.0,246.6 L366.0,247.2 L368.0,247.9 L370.0,248.6 L372.0,249.2 L374.0,249.9 L376.0,250.6 L378.0,251.3 L380.0,252.0 L382.0,252.8 L384.0,253.5 L386.0,254.2 L387.9,255.0 L389.9,255.8 L391.9,256.5 L393.9,257.3 L395.9,258.1 L397.9,258.9 L399.9,259.8 L401.9,260.6 L403.9,261.4 L405.9,262.3 L407.9,263.1 L409.9,264.0 L411.9,264.9 L413.9,265.8 L415.9,266.7 L417.8,267.6 L419.8,268.5 L421.8,269.5 L423.8,270.4 L425.8,271.4 L427.8,272.3 L429.8,273.3 L431.8,274.3 L433.8,275.3 L435.8,276.3 L437.8,277.4 L439.8,278.4 L441.8,279.5 L443.8,280.5 L445.8,281.6 L447.7,282.7 L449.7,283.8 L451.7,284.9 L453.7,286.1 L455.7,287.2 L457.7,288.3 L459.7,289.5 L461.7,290.7" fill="none" stroke="#7d0019" stroke-width="2" stroke-linejoin="round" stroke-linecap="butt"/>
<path d="M69.0,254.1 L71.0,254.0 L73.0,254.0 L75.0,254.0 L77.0,254.0 L79.0,254.0 L81.0,253.9 L82.9,253.9 L84.9,253.9 L86.9,253.9 L88.9,253.9 L90.9,253.8 L92.9,253.8 L94.9,253.8 L96.9,253.8 L98.9,253.8 L100.9,253.8 L102.9,253.8 L104.9,253.8 L106.8,253.8 L108.8,253.8 L110.8,253.8 L112.8,253.7 L114.8,253.7 L116.8,253.7 L118.8,253.8 L120.8,253.8 L122.8,253.8 L124.8,253.8 L126.8,253.8 L128.8,253.8 L130.7,253.8 L132.7,253.8 L134.7,253.8 L136.7,253.9 L138.7,253.9 L140.7,253.9 L142.7,253.9 L144.7,254.0 L146.7,254.0 L148.7,254.0 L150.7,254.1 L152.7,254.1 L154.6,254.2 L156.6,254.2 L158.6,254.3 L160.6,254.3 L162.6,254.4 L164.6,254.4 L166.6,254.5 L168.6,254.6 L170.6,254.6 L172.6,254.7 L174.6,254.8 L176.6,254.9 L178.5,255.0 L180.5,255.1 L182.5,255.2 L184.5,255.2 L186.5,255.4 L188.5,255.5 L190.5,255.6 L192.5,255.7 L194.5,255.8 L196.5,255.9 L198.5,256.0 L200.5,256.2 L202.4,256.3 L204.4,256.5 L206.4,256.6 L208.4,256.7 L210.4,256.9 L212.4,257.1 L214.4,257.2 L216.4,257.4 L218.4,257.6 L220.4,257.8 L222.4,257.9 L224.4,258.1 L226.3,258.3 L228.3,258.5 L230.3,258.7 L232.3,258.9 L234.3,259.2 L236.3,259.4 L238.3,259.6 L240.3,259.9 L242.3,260.1 L244.3,260.3 L246.3,260.6 L248.3,260.9 L250.2,261.1 L252.2,261.4 L254.2,261.7 L256.2,262.0 L258.2,262.3 L260.2,262.6 L262.2,262.9 L264.2,263.2 L266.2,263.5 L268.2,263.8 L270.2,264.2 L272.2,264.5 L274.1,264.9 L276.1,265.2 L278.1,265.6 L280.1,266.0 L282.1,266.3 L284.1,266.7 L286.1,267.1 L288.1,267.5 L290.1,267.9 L292.1,268.3 L294.1,268.8 L296.1,269.2 L298.0,269.7 L300.0,270.1 L302.0,270.6 L304.0,271.0 L306.0,271.5 L308.0,272.0 L310.0,272.5 L312.0,273.0 L314.0,273.5 L316.0,274.0 L318.0,274.5 L320.0,275.1 L321.9,275.6 L323.9,276.2 L325.9,276.8 L327.9,277.3 L329.9,277.9 L331.9,278.5 L333.9,279.1 L335.9,279.7 L337.9,280.4 L339.9,281.0 L341.9,281.6 L343.9,282.3 L345.8,282.9 L347.8,283.6 L349.8,284.3 L351.8,285.0 L353.8,285.7 L355.8,286.4 L357.8,287.2 L359.8,287.9 L361.8,288.6 L363.8,289.4 L365.8,290.2 L367.8,290.9 L369.7,291.7 L371.7,292.5 L373.7,293.4 L375.7,294.2 L377.7,295.0 L379.7,295.9 L381.7,296.7 L383.7,297.6 L385.7,298.5 L387.7,299.4 L389.7,300.3 L391.7,301.2 L393.6,302.2 L395.6,303.1 L397.6,304.1 L399.6,305.0 L401.6,306.0 L403.6,307.0 L405.6,308.0" fill="none" stroke="#2a9ad8" stroke-width="2" stroke-linejoin="round" stroke-linecap="butt"/>
<path d="M69.0,285.2 L71.0,285.2 L73.0,285.2 L75.0,285.2 L77.0,285.1 L78.9,285.1 L80.9,285.1 L82.9,285.1 L84.9,285.1 L86.9,285.1 L88.9,285.0 L90.9,285.0 L92.9,285.0 L94.9,285.0 L96.9,285.0 L98.8,285.0 L100.8,285.0 L102.8,285.0 L104.8,285.0 L106.8,285.0 L108.8,285.0 L110.8,285.0 L112.8,285.0 L114.8,285.0 L116.7,285.0 L118.7,285.0 L120.7,285.0 L122.7,285.1 L124.7,285.1 L126.7,285.1 L128.7,285.1 L130.7,285.1 L132.7,285.2 L134.6,285.2 L136.6,285.2 L138.6,285.3 L140.6,285.3 L142.6,285.3 L144.6,285.4 L146.6,285.4 L148.6,285.5 L150.6,285.5 L152.6,285.6 L154.5,285.6 L156.5,285.7 L158.5,285.8 L160.5,285.8 L162.5,285.9 L164.5,286.0 L166.5,286.1 L168.5,286.2 L170.5,286.3 L172.4,286.4 L174.4,286.5 L176.4,286.6 L178.4,286.7 L180.4,286.8 L182.4,286.9 L184.4,287.0 L186.4,287.2 L188.4,287.3 L190.4,287.4 L192.3,287.6 L194.3,287.7 L196.3,287.9 L198.3,288.0 L200.3,288.2 L202.3,288.4 L204.3,288.5 L206.3,288.7 L208.3,288.9 L210.2,289.1 L212.2,289.3 L214.2,289.5 L216.2,289.7 L218.2,289.9 L220.2,290.1 L222.2,290.4 L224.2,290.6 L226.2,290.8 L228.1,291.1 L230.1,291.3 L232.1,291.6 L234.1,291.9 L236.1,292.2 L238.1,292.4 L240.1,292.7 L242.1,293.0 L244.1,293.3 L246.1,293.6 L248.0,294.0 L250.0,294.3 L252.0,294.6 L254.0,295.0 L256.0,295.3 L258.0,295.7 L260.0,296.1 L262.0,296.4 L264.0,296.8 L265.9,297.2 L267.9,297.6 L269.9,298.0 L271.9,298.4 L273.9,298.9 L275.9,299.3 L277.9,299.8 L279.9,300.2 L281.9,300.7 L283.9,301.1 L285.8,301.6 L287.8,302.1 L289.8,302.6 L291.8,303.1 L293.8,303.7 L295.8,304.2 L297.8,304.7 L299.8,305.3 L301.8,305.8 L303.7,306.4 L305.7,307.0 L307.7,307.6 L309.7,308.2 L311.7,308.8 L313.7,309.4 L315.7,310.1 L317.7,310.7 L319.7,311.4 L321.6,312.1 L323.6,312.7 L325.6,313.4 L327.6,314.1 L329.6,314.9 L331.6,315.6 L333.6,316.3 L335.6,317.1 L337.6,317.8 L339.6,318.6 L341.5,319.4 L343.5,320.2 L345.5,321.0 L347.5,321.8 L349.5,322.7" fill="none" stroke="#c48c48" stroke-width="2" stroke-linejoin="round" stroke-linecap="butt"/>
<path d="M69.0,512.5 L71.0,512.1 L73.0,511.7 L75.0,511.3 L77.0,510.9 L79.0,510.4 L81.0,510.0 L83.0,509.6 L85.0,509.1 L87.0,508.7 L89.0,508.2 L91.0,507.8 L93.0,507.3 L95.0,506.8 L97.0,506.4 L98.9,505.9 L100.9,505.4 L102.9,504.9 L104.9,504.4 L106.9,503.9 L108.9,503.4 L110.9,502.9 L112.9,502.4 L114.9,501.9 L116.9,501.4 L118.9,500.8 L120.9,500.3 L122.9,499.8 L124.9,499.2 L126.9,498.7 L128.9,498.2 L130.9,497.6 L132.9,497.1 L134.9,496.5 L136.9,496.0 L138.9,495.4 L140.9,494.8 L142.9,494.3 L144.9,493.7 L146.9,493.1 L148.9,492.5 L150.9,491.9 L152.9,491.4 L154.8,490.8 L156.8,490.2 L158.8,489.6 L160.8,489.0 L162.8,488.4 L164.8,487.8 L166.8,487.2 L168.8,486.6 L170.8,486.0 L172.8,485.4 L174.8,484.8 L176.8,484.1 L178.8,483.5 L180.8,482.9 L182.8,482.3 L184.8,481.7 L186.8,481.0 L188.8,480.4 L190.8,479.8 L192.8,479.1 L194.8,478.5 L196.8,477.9 L198.8,477.2 L200.8,476.6 L202.8,476.0 L204.8,475.3 L206.8,474.7 L208.8,474.1 L210.7,473.4 L212.7,472.8 L214.7,472.1 L216.7,471.5 L218.7,470.8 L220.7,470.2 L222.7,469.5 L224.7,468.9 L226.7,468.2 L228.7,467.6 L230.7,466.9 L232.7,466.3 L234.7,465.6 L236.7,465.0 L238.7,464.3 L240.7,463.7 L242.7,463.0 L244.7,462.4 L246.7,461.7 L248.7,461.1 L250.7,460.4 L252.7,459.8 L254.7,459.1 L256.7,458.5 L258.7,457.8 L260.7,457.2 L262.7,456.5 L264.7,455.9 L266.6,455.3 L268.6,454.6 L270.6,454.0 L272.6,453.3 L274.6,452.7 L276.6,452.0 L278.6,451.4 L280.6,450.8 L282.6,450.1 L284.6,449.5 L286.6,448.9 L288.6,448.2 L290.6,447.6 L292.6,447.0 L294.6,446.3 L296.6,445.7 L298.6,445.1 L300.6,444.5 L302.6,443.8 L304.6,443.2 L306.6,442.6 L308.6,442.0 L310.6,441.4 L312.6,440.8 L314.6,440.2 L316.6,439.6 L318.6,439.0 L320.6,438.4 L322.5,437.8 L324.5,437.2 L326.5,436.6 L328.5,436.0 L330.5,435.4 L332.5,434.8 L334.5,434.3 L336.5,433.7 L338.5,433.1 L340.5,432.5 L342.5,432.0 L344.5,431.4 L346.5,430.9 L348.5,430.3 L350.5,429.7 L352.5,429.2 L354.5,428.7 L356.5,428.1 L358.5,427.6 L360.5,427.0 L362.5,426.5 L364.5,426.0 L366.5,425.5 L368.5,425.0 L370.5,424.4 L372.5,423.9 L374.5,423.4 L376.5,422.9 L378.4,422.4 L380.4,421.9 L382.4,421.5 L384.4,421.0 L386.4,420.5 L388.4,420.0 L390.4,419.6 L392.4,419.1 L394.4,418.6 L396.4,418.2 L398.4,417.7 L400.4,417.3 L402.4,416.9 L404.4,416.4 L406.4,416.0 L408.4,415.6 L410.4,415.2 L412.4,414.8 L414.4,414.4 L416.4,414.0 L418.4,413.6 L420.4,413.2 L422.4,412.8 L424.4,412.4 L426.4,412.1 L428.4,411.7 L430.4,411.4 L432.4,411.0 L434.3,410.7 L436.3,410.3 L438.3,410.0 L440.3,409.7 L442.3,409.4 L444.3,409.1 L446.3,408.7 L448.3,408.5 L450.3,408.2 L452.3,407.9 L454.3,407.6 L456.3,407.3 L458.3,407.1 L460.3,406.8 L462.3,406.6 L464.3,406.3 L466.3,406.1 L468.3,405.9 L470.3,405.7 L472.3,405.4 L474.3,405.2 L476.3,405.1 L478.3,404.9 L480.3,404.7 L482.3,404.5 L484.3,404.4 L486.3,404.2 L488.3,404.1 L490.2,403.9 L492.2,403.8 L494.2,403.7 L496.2,403.5 L498.2,403.4 L500.2,403.3 L502.2,403.3 L504.2,403.2 L506.2,403.1 L508.2,403.0 L510.2,403.0 L512.2,402.9 L514.2,402.9 L516.2,402.9 L518.2,402.9 L520.2,402.8 L522.2,402.8 L524.2,402.9 L526.2,402.9 L528.2,402.9 L530.2,402.9 L532.2,403.0 L534.2,403.0 L536.2,403.1 L538.2,403.2 L540.2,403.3 L542.2,403.4 L544.2,403.5 L546.1,403.6 L548.1,403.7 L550.1,403.8 L552.1,404.0 L554.1,404.1 L556.1,404.3 L558.1,404.5 L560.1,404.7 L562.1,404.9 L564.1,405.1 L566.1,405.3 L568.1,405.5 L570.1,405.8 L572.1,406.0 L574.1,406.3 L576.1,406.5 L578.1,406.8 L580.1,407.1 L582.1,407.4 L584.1,407.7 L586.1,408.1 L588.1,408.4 L590.1,408.8 L592.1,409.1 L594.1,409.5 L596.1,409.9 L598.1,410.3 L600.1,410.7 L602.0,411.1 L604.0,411.5 L606.0,412.0 L608.0,412.4 L610.0,412.9 L612.0,413.4 L614.0,413.9 L616.0,414.4 L618.0,414.9 L620.0,415.4 L622.0,416.0 L624.0,416.5 L626.0,417.1 L628.0,417.6 L630.0,418.2" fill="none" stroke="#003366" stroke-width="2" stroke-linejoin="round" stroke-linecap="butt"/>
<path d="M69.0,542.9 L71.0,542.6 L73.0,542.3 L75.0,541.9 L77.0,541.6 L79.0,541.2 L81.0,540.9 L83.0,540.5 L85.0,540.1 L87.0,539.8 L89.0,539.4 L91.0,539.0 L92.9,538.6 L94.9,538.2 L96.9,537.8 L98.9,537.4 L100.9,537.0 L102.9,536.6 L104.9,536.2 L106.9,535.8 L108.9,535.4 L110.9,535.0 L112.9,534.5 L114.9,534.1 L116.9,533.7 L118.9,533.2 L120.9,532.8 L122.9,532.3 L124.9,531.9 L126.9,531.4 L128.9,531.0 L130.9,530.5 L132.9,530.1 L134.9,529.6 L136.9,529.1 L138.8,528.7 L140.8,528.2 L142.8,527.7 L144.8,527.3 L146.8,526.8 L148.8,526.3 L150.8,525.8 L152.8,525.3 L154.8,524.8 L156.8,524.3 L158.8,523.9 L160.8,523.4 L162.8,522.9 L164.8,522.4 L166.8,521.9 L168.8,521.4 L170.8,520.8 L172.8,520.3 L174.8,519.8 L176.8,519.3 L178.8,518.8 L180.8,518.3 L182.8,517.8 L184.7,517.3 L186.7,516.7 L188.7,516.2 L190.7,515.7 L192.7,515.2 L194.7,514.7 L196.7,514.1 L198.7,513.6 L200.7,513.1 L202.7,512.6 L204.7,512.0 L206.7,511.5 L208.7,511.0 L210.7,510.5 L212.7,509.9 L214.7,509.4 L216.7,508.9 L218.7,508.4 L220.7,507.8 L222.7,507.3 L224.7,506.8 L226.7,506.2 L228.7,505.7 L230.6,505.2 L232.6,504.7 L234.6,504.1 L236.6,503.6 L238.6,503.1 L240.6,502.5 L242.6,502.0 L244.6,501.5 L246.6,501.0 L248.6,500.5 L250.6,499.9 L252.6,499.4 L254.6,498.9 L256.6,498.4 L258.6,497.9 L260.6,497.3 L262.6,496.8 L264.6,496.3 L266.6,495.8 L268.6,495.3 L270.6,494.8 L272.6,494.3 L274.6,493.8 L276.5,493.3 L278.5,492.8 L280.5,492.3 L282.5,491.8 L284.5,491.3 L286.5,490.8 L288.5,490.3 L290.5,489.8 L292.5,489.3 L294.5,488.8 L296.5,488.3 L298.5,487.8 L300.5,487.4 L302.5,486.9 L304.5,486.4 L306.5,485.9 L308.5,485.5 L310.5,485.0 L312.5,484.5 L314.5,484.1 L316.5,483.6 L318.5,483.2 L320.5,482.7 L322.4,482.3 L324.4,481.8 L326.4,481.4 L328.4,481.0 L330.4,480.5 L332.4,480.1 L334.4,479.7 L336.4,479.2 L338.4,478.8 L340.4,478.4 L342.4,478.0 L344.4,477.6 L346.4,477.2 L348.4,476.8 L350.4,476.4 L352.4,476.0 L354.4,475.6 L356.4,475.2 L358.4,474.9 L360.4,474.5 L362.4,474.1 L364.4,473.8 L366.4,473.4 L368.3,473.1 L370.3,472.7 L372.3,472.4 L374.3,472.0 L376.3,471.7 L378.3,471.4 L380.3,471.0 L382.3,470.7 L384.3,470.4 L386.3,470.1 L388.3,469.8 L390.3,469.5 L392.3,469.2 L394.3,468.9 L396.3,468.6 L398.3,468.3 L400.3,468.1 L402.3,467.8 L404.3,467.6 L406.3,467.3 L408.3,467.1 L410.3,466.8 L412.3,466.6 L414.2,466.4 L416.2,466.1 L418.2,465.9 L420.2,465.7 L422.2,465.5 L424.2,465.3 L426.2,465.1 L428.2,464.9 L430.2,464.8 L432.2,464.6 L434.2,464.4 L436.2,464.3 L438.2,464.1 L440.2,464.0 L442.2,463.8 L444.2,463.7 L446.2,463.6 L448.2,463.5 L450.2,463.4 L452.2,463.3 L454.2,463.2 L456.2,463.1 L458.2,463.0 L460.1,462.9 L462.1,462.9 L464.1,462.8 L466.1,462.8 L468.1,462.7 L470.1,462.7 L472.1,462.7 L474.1,462.7 L476.1,462.7 L478.1,462.7 L480.1,462.7 L482.1,462.7 L484.1,462.7 L486.1,462.8 L488.1,462.8 L490.1,462.9 L492.1,462.9 L494.1,463.0 L496.1,463.1 L498.1,463.2 L500.1,463.3 L502.1,463.4 L504.1,463.5 L506.0,463.6 L508.0,463.7 L510.0,463.9 L512.0,464.0 L514.0,464.2 L516.0,464.4 L518.0,464.5 L520.0,464.7 L522.0,464.9 L524.0,465.1 L526.0,465.3 L528.0,465.6 L530.0,465.8 L532.0,466.1 L534.0,466.3 L536.0,466.6 L538.0,466.9 L540.0,467.1 L542.0,467.4 L544.0,467.7 L546.0,468.1 L548.0,468.4 L550.0,468.7 L551.9,469.1 L553.9,469.4 L555.9,469.8 L557.9,470.2 L559.9,470.6 L561.9,471.0 L563.9,471.4 L565.9,471.8 L567.9,472.2 L569.9,472.7 L571.9,473.1 L573.9,473.6" fill="none" stroke="#3c64b4" stroke-width="2" stroke-linejoin="round" stroke-linecap="butt"/>
<path d="M69.0,567.0 L71.0,566.7 L73.0,566.4 L75.0,566.1 L77.0,565.8 L79.0,565.5 L81.0,565.2 L83.0,564.9 L85.0,564.6 L87.0,564.3 L88.9,564.0 L90.9,563.7 L92.9,563.3 L94.9,563.0 L96.9,562.7 L98.9,562.4 L100.9,562.0 L102.9,561.7 L104.9,561.3 L106.9,561.0 L108.9,560.6 L110.9,560.3 L112.9,559.9 L114.9,559.6 L116.9,559.2 L118.9,558.9 L120.9,558.5 L122.9,558.1 L124.9,557.8 L126.8,557.4 L128.8,557.0 L130.8,556.7 L132.8,556.3 L134.8,555.9 L136.8,555.5 L138.8,555.1 L140.8,554.7 L142.8,554.4 L144.8,554.0 L146.8,553.6 L148.8,553.2 L150.8,552.8 L152.8,552.4 L154.8,552.0 L156.8,551.6 L158.8,551.2 L160.8,550.8 L162.7,550.4 L164.7,550.0 L166.7,549.6 L168.7,549.2 L170.7,548.8 L172.7,548.4 L174.7,547.9 L176.7,547.5 L178.7,547.1 L180.7,546.7 L182.7,546.3 L184.7,545.9 L186.7,545.5 L188.7,545.1 L190.7,544.6 L192.7,544.2 L194.7,543.8 L196.7,543.4 L198.7,543.0 L200.6,542.6 L202.6,542.2 L204.6,541.7 L206.6,541.3 L208.6,540.9 L210.6,540.5 L212.6,540.1 L214.6,539.7 L216.6,539.3 L218.6,538.8 L220.6,538.4 L222.6,538.0 L224.6,537.6 L226.6,537.2 L228.6,536.8 L230.6,536.4 L232.6,536.0 L234.6,535.6 L236.6,535.2 L238.5,534.8 L240.5,534.4 L242.5,534.0 L244.5,533.6 L246.5,533.2 L248.5,532.8 L250.5,532.4 L252.5,532.0 L254.5,531.6 L256.5,531.2 L258.5,530.8 L260.5,530.4 L262.5,530.0 L264.5,529.6 L266.5,529.3 L268.5,528.9 L270.5,528.5 L272.5,528.1 L274.5,527.7 L276.4,527.4 L278.4,527.0 L280.4,526.6 L282.4,526.3 L284.4,525.9 L286.4,525.6 L288.4,525.2 L290.4,524.8 L292.4,524.5 L294.4,524.1 L296.4,523.8 L298.4,523.5 L300.4,523.1 L302.4,522.8 L304.4,522.5 L306.4,522.1 L308.4,521.8 L310.4,521.5 L312.3,521.2 L314.3,520.8 L316.3,520.5 L318.3,520.2 L320.3,519.9 L322.3,519.6 L324.3,519.3 L326.3,519.0 L328.3,518.7 L330.3,518.4 L332.3,518.2 L334.3,517.9 L336.3,517.6 L338.3,517.3 L340.3,517.1 L342.3,516.8 L344.3,516.6 L346.3,516.3 L348.3,516.1 L350.2,515.8 L352.2,515.6 L354.2,515.4 L356.2,515.1 L358.2,514.9 L360.2,514.7 L362.2,514.5 L364.2,514.3 L366.2,514.1 L368.2,513.9 L370.2,513.7 L372.2,513.5 L374.2,513.3 L376.2,513.1 L378.2,512.9 L380.2,512.8 L382.2,512.6 L384.2,512.5 L386.2,512.3 L388.1,512.2 L390.1,512.0 L392.1,511.9 L394.1,511.8 L396.1,511.7 L398.1,511.5 L400.1,511.4 L402.1,511.3 L404.1,511.2 L406.1,511.1 L408.1,511.1 L410.1,511.0 L412.1,510.9 L414.1,510.9 L416.1,510.8 L418.1,510.7 L420.1,510.7 L422.1,510.7 L424.1,510.6 L426.0,510.6 L428.0,510.6 L430.0,510.6 L432.0,510.6 L434.0,510.6 L436.0,510.6 L438.0,510.6 L440.0,510.7 L442.0,510.7 L444.0,510.7 L446.0,510.8 L448.0,510.8 L450.0,510.9 L452.0,511.0 L454.0,511.1 L456.0,511.1 L458.0,511.2 L460.0,511.3 L461.9,511.5 L463.9,511.6 L465.9,511.7 L467.9,511.8 L469.9,512.0 L471.9,512.1 L473.9,512.3 L475.9,512.5 L477.9,512.6 L479.9,512.8 L481.9,513.0 L483.9,513.2 L485.9,513.4 L487.9,513.7 L489.9,513.9 L491.9,514.1 L493.9,514.4 L495.9,514.6 L497.9,514.9 L499.8,515.2 L501.8,515.5 L503.8,515.8 L505.8,516.1 L507.8,516.4 L509.8,516.7 L511.8,517.0 L513.8,517.4 L515.8,517.7 L517.8,518.1" fill="none" stroke="#800080" stroke-width="2" stroke-linejoin="round" stroke-linecap="butt"/>
<path d="M69.0,585.8 L71.0,585.5 L73.0,585.3 L75.0,585.1 L77.0,584.8 L79.0,584.6 L81.0,584.4 L83.0,584.1 L84.9,583.9 L86.9,583.6 L88.9,583.3 L90.9,583.1 L92.9,582.8 L94.9,582.6 L96.9,582.3 L98.9,582.0 L100.9,581.8 L102.9,581.5 L104.9,581.2 L106.9,580.9 L108.9,580.7 L110.9,580.4 L112.9,580.1 L114.8,579.8 L116.8,579.5 L118.8,579.2 L120.8,579.0 L122.8,578.7 L124.8,578.4 L126.8,578.1 L128.8,577.8 L130.8,577.5 L132.8,577.2 L134.8,576.9 L136.8,576.6 L138.8,576.3 L140.8,576.0 L142.8,575.7 L144.7,575.4 L146.7,575.1 L148.7,574.8 L150.7,574.5 L152.7,574.2 L154.7,573.8 L156.7,573.5 L158.7,573.2 L160.7,572.9 L162.7,572.6 L164.7,572.3 L166.7,572.0 L168.7,571.7 L170.7,571.3 L172.7,571.0 L174.7,570.7 L176.6,570.4 L178.6,570.1 L180.6,569.8 L182.6,569.5 L184.6,569.1 L186.6,568.8 L188.6,568.5 L190.6,568.2 L192.6,567.9 L194.6,567.6 L196.6,567.3 L198.6,567.0 L200.6,566.6 L202.6,566.3 L204.6,566.0 L206.5,565.7 L208.5,565.4 L210.5,565.1 L212.5,564.8 L214.5,564.5 L216.5,564.2 L218.5,563.9 L220.5,563.6 L222.5,563.3 L224.5,563.0 L226.5,562.7 L228.5,562.4 L230.5,562.1 L232.5,561.8 L234.5,561.5 L236.4,561.2 L238.4,560.9 L240.4,560.6 L242.4,560.3 L244.4,560.0 L246.4,559.7 L248.4,559.4 L250.4,559.2 L252.4,558.9 L254.4,558.6 L256.4,558.3 L258.4,558.1 L260.4,557.8 L262.4,557.5 L264.4,557.3 L266.3,557.0 L268.3,556.7 L270.3,556.5 L272.3,556.2 L274.3,556.0 L276.3,555.7 L278.3,555.5 L280.3,555.2 L282.3,555.0 L284.3,554.7 L286.3,554.5 L288.3,554.3 L290.3,554.0 L292.3,553.8 L294.3,553.6 L296.2,553.4 L298.2,553.1 L300.2,552.9 L302.2,552.7 L304.2,552.5 L306.2,552.3 L308.2,552.1 L310.2,551.9 L312.2,551.7 L314.2,551.5 L316.2,551.3 L318.2,551.2 L320.2,551.0 L322.2,550.8 L324.2,550.6 L326.1,550.5 L328.1,550.3 L330.1,550.2 L332.1,550.0 L334.1,549.9 L336.1,549.7 L338.1,549.6 L340.1,549.5 L342.1,549.3 L344.1,549.2 L346.1,549.1 L348.1,549.0 L350.1,548.9 L352.1,548.8 L354.1,548.7 L356.0,548.6 L358.0,548.5 L360.0,548.4 L362.0,548.3 L364.0,548.3 L366.0,548.2 L368.0,548.1 L370.0,548.1 L372.0,548.0 L374.0,548.0 L376.0,547.9 L378.0,547.9 L380.0,547.9 L382.0,547.9 L384.0,547.8 L386.0,547.8 L387.9,547.8 L389.9,547.8 L391.9,547.9 L393.9,547.9 L395.9,547.9 L397.9,547.9 L399.9,548.0 L401.9,548.0 L403.9,548.1 L405.9,548.1 L407.9,548.2 L409.9,548.2 L411.9,548.3 L413.9,548.4 L415.9,548.5 L417.8,548.6 L419.8,548.7 L421.8,548.8 L423.8,548.9 L425.8,549.1 L427.8,549.2 L429.8,549.4 L431.8,549.5 L433.8,549.7 L435.8,549.8 L437.8,550.0 L439.8,550.2 L441.8,550.4 L443.8,550.6 L445.8,550.8 L447.7,551.0 L449.7,551.2 L451.7,551.5 L453.7,551.7 L455.7,552.0 L457.7,552.2 L459.7,552.5 L461.7,552.8" fill="none" stroke="#7d0019" stroke-width="2" stroke-linejoin="round" stroke-linecap="butt"/>
<path d="M69.0,600.0 L71.0,599.9 L73.0,599.8 L75.0,599.7 L77.0,599.5 L79.0,599.4 L81.0,599.3 L82.9,599.1 L84.9,599.0 L86.9,598.8 L88.9,598.7 L90.9,598.5 L92.9,598.3 L94.9,598.1 L96.9,598.0 L98.9,597.8 L100.9,597.6 L102.9,597.4 L104.9,597.2 L106.8,597.0 L108.8,596.8 L110.8,596.6 L112.8,596.4 L114.8,596.2 L116.8,596.0 L118.8,595.7 L120.8,595.5 L122.8,595.3 L124.8,595.1 L126.8,594.8 L128.8,594.6 L130.7,594.4 L132.7,594.1 L134.7,593.9 L136.7,593.6 L138.7,593.4 L140.7,593.2 L142.7,592.9 L144.7,592.7 L146.7,592.4 L148.7,592.2 L150.7,591.9 L152.7,591.7 L154.6,591.4 L156.6,591.2 L158.6,590.9 L160.6,590.7 L162.6,590.4 L164.6,590.1 L166.6,589.9 L168.6,589.6 L170.6,589.4 L172.6,589.1 L174.6,588.9 L176.6,588.6 L178.5,588.4 L180.5,588.1 L182.5,587.9 L184.5,587.6 L186.5,587.4 L188.5,587.1 L190.5,586.9 L192.5,586.6 L194.5,586.4 L196.5,586.1 L198.5,585.9 L200.5,585.6 L202.4,585.4 L204.4,585.2 L206.4,584.9 L208.4,584.7 L210.4,584.5 L212.4,584.2 L214.4,584.0 L216.4,583.8 L218.4,583.6 L220.4,583.3 L222.4,583.1 L224.4,582.9 L226.3,582.7 L228.3,582.5 L230.3,582.3 L232.3,582.1 L234.3,581.9 L236.3,581.7 L238.3,581.5 L240.3,581.3 L242.3,581.1 L244.3,580.9 L246.3,580.7 L248.3,580.5 L250.2,580.3 L252.2,580.2 L254.2,580.0 L256.2,579.8 L258.2,579.7 L260.2,579.5 L262.2,579.3 L264.2,579.2 L266.2,579.0 L268.2,578.9 L270.2,578.7 L272.2,578.6 L274.1,578.5 L276.1,578.3 L278.1,578.2 L280.1,578.1 L282.1,578.0 L284.1,577.9 L286.1,577.7 L288.1,577.6 L290.1,577.5 L292.1,577.4 L294.1,577.3 L296.1,577.3 L298.0,577.2 L300.0,577.1 L302.0,577.0 L304.0,576.9 L306.0,576.9 L308.0,576.8 L310.0,576.7 L312.0,576.7 L314.0,576.6 L316.0,576.6 L318.0,576.6 L320.0,576.5 L321.9,576.5 L323.9,576.5 L325.9,576.4 L327.9,576.4 L329.9,576.4 L331.9,576.4 L333.9,576.4 L335.9,576.4 L337.9,576.4 L339.9,576.4 L341.9,576.4 L343.9,576.4 L345.8,576.5 L347.8,576.5 L349.8,576.5 L351.8,576.6 L353.8,576.6 L355.8,576.7 L357.8,576.7 L359.8,576.8 L361.8,576.8 L363.8,576.9 L365.8,577.0 L367.8,577.0 L369.7,577.1 L371.7,577.2 L373.7,577.3 L375.7,577.4 L377.7,577.5 L379.7,577.6 L381.7,577.7 L383.7,577.8 L385.7,577.9 L387.7,578.0 L389.7,578.2 L391.7,578.3 L393.6,578.4 L395.6,578.6 L397.6,578.7 L399.6,578.8 L401.6,579.0 L403.6,579.2 L405.6,579.3" fill="none" stroke="#2a9ad8" stroke-width="2" stroke-linejoin="round" stroke-linecap="butt"/>
<path d="M69.0,610.0 L71.0,609.9 L73.0,609.8 L75.0,609.7 L77.0,609.6 L78.9,609.5 L80.9,609.4 L82.9,609.2 L84.9,609.1 L86.9,609.0 L88.9,608.9 L90.9,608.8 L92.9,608.6 L94.9,608.5 L96.9,608.4 L98.8,608.3 L100.8,608.1 L102.8,608.0 L104.8,607.9 L106.8,607.7 L108.8,607.6 L110.8,607.4 L112.8,607.3 L114.8,607.1 L116.7,607.0 L118.7,606.8 L120.7,606.7 L122.7,606.5 L124.7,606.4 L126.7,606.2 L128.7,606.1 L130.7,605.9 L132.7,605.8 L134.6,605.6 L136.6,605.4 L138.6,605.3 L140.6,605.1 L142.6,605.0 L144.6,604.8 L146.6,604.6 L148.6,604.5 L150.6,604.3 L152.6,604.1 L154.5,604.0 L156.5,603.8 L158.5,603.6 L160.5,603.5 L162.5,603.3 L164.5,603.2 L166.5,603.0 L168.5,602.8 L170.5,602.7 L172.4,602.5 L174.4,602.3 L176.4,602.2 L178.4,602.0 L180.4,601.9 L182.4,601.7 L184.4,601.5 L186.4,601.4 L188.4,601.2 L190.4,601.1 L192.3,600.9 L194.3,600.8 L196.3,600.6 L198.3,600.5 L200.3,600.3 L202.3,600.2 L204.3,600.0 L206.3,599.9 L208.3,599.7 L210.2,599.6 L212.2,599.5 L214.2,599.3 L216.2,599.2 L218.2,599.1 L220.2,598.9 L222.2,598.8 L224.2,598.7 L226.2,598.5 L228.1,598.4 L230.1,598.3 L232.1,598.2 L234.1,598.1 L236.1,598.0 L238.1,597.9 L240.1,597.8 L242.1,597.7 L244.1,597.6 L246.1,597.5 L248.0,597.4 L250.0,597.3 L252.0,597.2 L254.0,597.1 L256.0,597.0 L258.0,597.0 L260.0,596.9 L262.0,596.8 L264.0,596.8 L265.9,596.7 L267.9,596.6 L269.9,596.6 L271.9,596.5 L273.9,596.5 L275.9,596.5 L277.9,596.4 L279.9,596.4 L281.9,596.4 L283.9,596.3 L285.8,596.3 L287.8,596.3 L289.8,596.3 L291.8,596.3 L293.8,596.3 L295.8,596.3 L297.8,596.3 L299.8,596.3 L301.8,596.4 L303.7,596.4 L305.7,596.4 L307.7,596.4 L309.7,596.5 L311.7,596.5 L313.7,596.6 L315.7,596.7 L317.7,596.7 L319.7,596.8 L321.6,596.9 L323.6,596.9 L325.6,597.0 L327.6,597.1 L329.6,597.2 L331.6,597.3 L333.6,597.4 L335.6,597.6 L337.6,597.7 L339.6,597.8 L341.5,598.0 L343.5,598.1 L345.5,598.3 L347.5,598.4 L349.5,598.6" fill="none" stroke="#c48c48" stroke-width="2" stroke-linejoin="round" stroke-linecap="butt"/>
<text class="lbl" x="642.3" y="230.3" font-size="13" font-weight="bold" fill="#003366" fill-opacity="0.64" stroke="#fff" stroke-width="0.45" stroke-opacity="0.9">2950 rpm</text>
<text class="lbl" x="585.8" y="256.0" font-size="13" font-weight="bold" fill="#3c64b4" fill-opacity="0.64" stroke="#fff" stroke-width="0.45" stroke-opacity="0.9">2655 rpm</text>
<text class="lbl" x="530.0" y="278.5" font-size="13" font-weight="bold" fill="#800080" fill-opacity="0.64" stroke="#fff" stroke-width="0.45" stroke-opacity="0.9">2360 rpm</text>
<text class="lbl" x="474.3" y="298.0" font-size="13" font-weight="bold" fill="#7d0019" fill-opacity="0.64" stroke="#fff" stroke-width="0.45" stroke-opacity="0.9">2065 rpm</text>
<text class="lbl" x="417.8" y="315.2" font-size="13" font-weight="bold" fill="#2a9ad8" fill-opacity="0.64" stroke="#fff" stroke-width="0.45" stroke-opacity="0.9">1770 rpm</text>
<text class="lbl" x="361.7" y="330.3" font-size="13" font-weight="bold" fill="#c48c48" fill-opacity="0.64" stroke="#fff" stroke-width="0.45" stroke-opacity="0.9">1475 rpm</text>
<text class="lbl" x="641.0" y="421.5" font-size="13" font-weight="bold" fill="#003366" fill-opacity="0.64" stroke="#fff" stroke-width="0.45" stroke-opacity="0.9">2950 rpm</text>
<text class="lbl" x="585.0" y="477.0" font-size="13" font-weight="bold" fill="#3c64b4" fill-opacity="0.64" stroke="#fff" stroke-width="0.45" stroke-opacity="0.9">2655 rpm</text>
<text class="lbl" x="529.2" y="521.1" font-size="13" font-weight="bold" fill="#800080" fill-opacity="0.64" stroke="#fff" stroke-width="0.45" stroke-opacity="0.9">2360 rpm</text>
<text class="lbl" x="473.6" y="556.2" font-size="13" font-weight="bold" fill="#7d0019" fill-opacity="0.64" stroke="#fff" stroke-width="0.45" stroke-opacity="0.9">2065 rpm</text>
<text class="lbl" x="416.6" y="582.0" font-size="13" font-weight="bold" fill="#2a9ad8" fill-opacity="0.64" stroke="#fff" stroke-width="0.45" stroke-opacity="0.9">1770 rpm</text>
<text class="lbl" x="361.0" y="601.2" font-size="13" font-weight="bold" fill="#c48c48" fill-opacity="0.64" stroke="#fff" stroke-width="0.45" stroke-opacity="0.9">1475 rpm</text>
<text x="377.2" y="742" font-size="13" font-weight="bold" fill="#000" text-anchor="middle" font-family="Liberation Sans, Noto Sans CJK SC, sans-serif"><tspan font-size="14">流量</tspan> (m³/h)</text>
<text x="17.2" y="186.0" font-size="13" font-weight="bold" fill="#3355ee" text-anchor="middle" font-family="Liberation Sans, Noto Sans CJK SC, sans-serif">扬</text>
<text x="17.2" y="201.0" font-size="13" font-weight="bold" fill="#3355ee" text-anchor="middle" font-family="Liberation Sans, Noto Sans CJK SC, sans-serif">程</text>
<text transform="translate(20.0,222.0) rotate(-90)" font-size="12.5" font-weight="bold" fill="#3355ee" text-anchor="middle">(m)</text>
<text x="17.2" y="531.0" font-size="13" font-weight="bold" fill="#cc0a8c" text-anchor="middle" font-family="Liberation Sans, Noto Sans CJK SC, sans-serif">功</text>
<text x="17.2" y="546.0" font-size="13" font-weight="bold" fill="#cc0a8c" text-anchor="middle" font-family="Liberation Sans, Noto Sans CJK SC, sans-serif">率</text>
<text transform="translate(19.6,571.0) rotate(-90)" font-size="12" font-weight="bold" fill="#cc0a8c" text-anchor="middle">(KW)</text>
</svg>
</body></html>
